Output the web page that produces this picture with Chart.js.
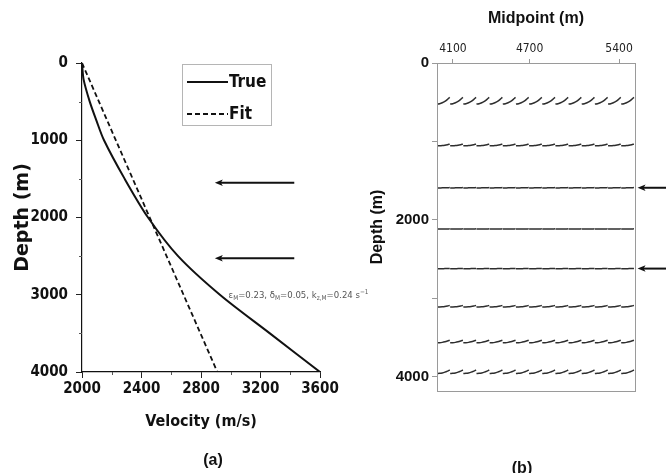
<!DOCTYPE html>
<html><head><meta charset="utf-8">
<script src="https://cdn.jsdelivr.net/npm/chart.js@4"></script>
<style>
html,body{margin:0;padding:0;background:#fff;}
#wrap{position:relative;width:666px;height:473px;overflow:hidden;background:#fff;}
#ca{position:absolute;left:0;top:0;}
#cb{position:absolute;left:340px;top:0;}
</style></head><body>
<div id="wrap"><canvas id="ca" width="400" height="473"></canvas><canvas id="cb" width="326" height="473"></canvas></div>
<script>
// ---------- Panel (a): velocity vs depth ----------
const trueDepth = [0, 215, 500, 740, 1000, 1500, 2000, 2500, 3000, 3500, 4000];
const trueVelocity = [2000, 2011, 2052, 2096, 2148, 2287, 2444, 2646, 2927, 3263, 3600];
const fitDepth = [0, 4000];
const fitVelocity = [2000, 2910];
const velocityTicks = [2000, 2400, 2800, 3200, 3600];
const velocityMinorTicks = [2200, 2600, 3000, 3400];
const depthTicksA = [0, 1000, 2000, 3000, 4000];
const depthMinorTicksA = [500, 1500, 2500, 3500];
const arrowDepthsA = [1549, 2529];
const arrowVelTailA = 3427;
const arrowVelHeadA = 2893;
const annotVel = 2985, annotDepth = 3040;

// ---------- Panel (b): migrated gather ----------
const midpointTicks = [4100, 4700, 5400];
const depthTicksB = [0, 2000, 4000];
const depthMinorTicksB = [1000, 3000];
const eventDepths = [480, 1045, 1590, 2115, 2620, 3100, 3550, 3935];
const eventRise = [85, 22, 4, 3, 4, 20, 32, 45];
const traceStarts = [3975, 4078, 4181, 4284, 4387, 4490, 4593, 4696, 4799, 4902, 5005, 5108, 5211, 5314, 5417];
const traceWidth = 103;
const hookOffsets = [0, 0.2, 0.4, 0.6, 0.8, 0.97];
const hookShape = [0, 0.05, 0.18, 0.4, 0.7, 1.0];
const arrowDepthsB = [1590, 2620];
const arrowMidTailB = 5790;
const arrowMidHeadB = 5545;

const COND = '"DejaVu Sans Condensed", "Liberation Sans Narrow", "Liberation Sans", sans-serif';
const SANS = '"Liberation Sans", Arial, sans-serif';
const DJ = '"DejaVu Sans", sans-serif';

function drawArrow(ctx, x1, y, x2, head) {
  ctx.save();
  ctx.strokeStyle = '#111'; ctx.fillStyle = '#111'; ctx.lineWidth = 2;
  ctx.beginPath(); ctx.moveTo(x1, y); ctx.lineTo(x2 + head * 0.8, y); ctx.stroke();
  ctx.beginPath(); ctx.moveTo(x2, y); ctx.lineTo(x2 + head * 1.6, y - head * 0.65);
  ctx.lineTo(x2 + head * 1.2, y); ctx.lineTo(x2 + head * 1.6, y + head * 0.65); ctx.closePath(); ctx.fill();
  ctx.restore();
}

const decoA = {
  id: 'decoA',
  afterDraw(chart) {
    const ctx = chart.ctx, xs = chart.scales.x, ys = chart.scales.y;
    arrowDepthsA.forEach(d => {
      drawArrow(ctx, xs.getPixelForValue(arrowVelTailA), ys.getPixelForValue(d), xs.getPixelForValue(arrowVelHeadA), 5);
    });
    ctx.save();
    ctx.strokeStyle = '#555'; ctx.lineWidth = 1;
    velocityMinorTicks.forEach(v => {
      const px = Math.round(xs.getPixelForValue(v)) + 0.5;
      ctx.beginPath(); ctx.moveTo(px, ys.bottom); ctx.lineTo(px, ys.bottom + 3); ctx.stroke();
    });
    depthMinorTicksA.forEach(v => {
      const py = Math.round(ys.getPixelForValue(v)) + 0.5;
      ctx.beginPath(); ctx.moveTo(xs.left, py); ctx.lineTo(xs.left - 3, py); ctx.stroke();
    });
    ctx.strokeStyle = '#b5b5b5'; ctx.lineWidth = 1;
    ctx.strokeRect(182.5, 64.5, 89, 61);
    const ds = chart.data.datasets;
    const rows = [82, 114];
    ds.forEach((d, i) => {
      ctx.strokeStyle = '#111'; ctx.lineWidth = 1.8;
      ctx.setLineDash(d.borderDash || []);
      ctx.beginPath(); ctx.moveTo(187, rows[i]); ctx.lineTo(228, rows[i]); ctx.stroke();
      ctx.setLineDash([]);
      ctx.fillStyle = '#111'; ctx.font = 'bold 17px ' + COND;
      ctx.textBaseline = 'middle'; ctx.textAlign = 'left';
      ctx.fillText(d.label, 229, rows[i] + 1);
    });
    let x = xs.getPixelForValue(annotVel), y = ys.getPixelForValue(annotDepth);
    const parts = [['ε',0],['M',1],['=0.23, ',0],['δ',0],['M',1],['=0.05, ',0],['k',0],['z,M',1],['=0.24 s',0],['−1',2]];
    ctx.fillStyle = '#555'; ctx.textBaseline = 'alphabetic';
    parts.forEach(([t, s]) => {
      ctx.font = (s ? '6.5px ' : '9.5px ') + COND;
      const yy = s === 1 ? y + 2 : (s === 2 ? y - 4 : y);
      ctx.fillText(t, x, yy);
      x += ctx.measureText(t).width;
    });
    ctx.fillStyle = '#111'; ctx.font = 'bold 16px ' + SANS; ctx.textAlign = 'center'; ctx.textBaseline = 'middle';
    ctx.fillText('(a)', 213, 461);
    ctx.restore();
  }
};

new Chart(document.getElementById('ca'), {
  type: 'line',
  data: {
    datasets: [
      { label: 'True', data: trueVelocity.map((v, i) => ({x: v, y: trueDepth[i]})),
        borderColor: '#111', borderWidth: 2, pointRadius: 0, tension: 0.3, fill: false },
      { label: 'Fit', data: fitVelocity.map((v, i) => ({x: v, y: fitDepth[i]})),
        borderColor: '#111', borderWidth: 1.8, borderDash: [5, 3], pointRadius: 0, fill: false }
    ]
  },
  options: {
    responsive: false, animation: false, devicePixelRatio: 1,
    layout: { padding: { left: 0, top: 63, right: 80, bottom: 0 } },
    plugins: { legend: { display: false }, tooltip: { enabled: false } },
    scales: {
      x: {
        type: 'linear', min: 2000, max: 3600,
        afterBuildTicks: s => { s.ticks = velocityTicks.map(v => ({value: v})); },
        afterFit: s => { s.height = 101; },
        ticks: { color: '#111', font: { family: COND, size: 15, weight: 'bold' }, padding: 2, maxRotation: 0,
          callback: v => String(v) },
        grid: { drawOnChartArea: false, tickLength: 6, color: '#222' },
        border: { color: '#111', width: 1.2 },
        title: { display: true, text: 'Velocity (m/s)', color: '#111', font: { family: COND, size: 16, weight: 'bold' }, padding: { bottom: 42, top: 0 } }
      },
      y: {
        type: 'linear', reverse: true, min: 0, max: 4000,
        afterBuildTicks: s => { s.ticks = depthTicksA.map(v => ({value: v})); },
        afterFit: s => { s.width = 82; },
        ticks: { color: '#111', font: { family: COND, size: 15, weight: 'bold' }, padding: 8, callback: v => String(v) },
        grid: { drawOnChartArea: false, tickLength: 6, color: '#222' },
        border: { color: '#111', width: 1.2 },
        title: { display: true, text: 'Depth (m)', color: '#111', font: { family: DJ, size: 19, weight: 'bold' }, padding: { top: 12, bottom: 0 } }
      }
    }
  },
  plugins: [decoA]
});

// ---------- Panel (b) ----------
const gatherDatasets = eventDepths.map((d, r) => {
  const pts = [];
  traceStarts.forEach(t0 => {
    hookOffsets.forEach((o, k) => {
      pts.push({ x: t0 + o * traceWidth, y: d - hookShape[k] * eventRise[r] + eventRise[r] * 0.5 });
    });
    pts.push({ x: t0 + traceWidth, y: null });
  });
  return { label: 'Event ' + (r + 1), data: pts, borderColor: '#2e2e2e', borderWidth: 1.5, pointRadius: 0,
           tension: 0.35, spanGaps: false, fill: false };
});

const decoB = {
  id: 'decoB',
  afterDraw(chart) {
    const ctx = chart.ctx, xs = chart.scales.x, ys = chart.scales.y, a = chart.chartArea;
    ctx.save();
    ctx.strokeStyle = '#9a9a9a'; ctx.lineWidth = 1;
    ctx.strokeRect(Math.round(a.left) + 0.5, Math.round(a.top) + 0.5, Math.round(a.right - a.left), Math.round(a.bottom - a.top));
    arrowDepthsB.forEach(d => {
      drawArrow(ctx, xs.getPixelForValue(arrowMidTailB), ys.getPixelForValue(d), xs.getPixelForValue(arrowMidHeadB), 5);
    });
    ctx.fillStyle = '#111'; ctx.font = 'bold 16px ' + SANS; ctx.textAlign = 'center'; ctx.textBaseline = 'middle';
    ctx.fillText('(b)', 182, 469);
    ctx.restore();
  }
};

new Chart(document.getElementById('cb'), {
  type: 'line',
  data: { datasets: gatherDatasets },
  options: {
    responsive: false, animation: false, devicePixelRatio: 1,
    layout: { padding: { left: 0, top: 0, right: 31, bottom: 82 } },
    plugins: { legend: { display: false }, tooltip: { enabled: false } },
    scales: {
      x: {
        type: 'linear', position: 'top', min: 3975, max: 5525,
        afterBuildTicks: s => { s.ticks = midpointTicks.map(v => ({value: v})); },
        afterFit: s => { s.height = 63; },
        ticks: { color: '#222', font: { family: COND, size: 12 }, padding: 3, maxRotation: 0, callback: v => String(v) },
        grid: { drawOnChartArea: false, tickLength: 4, color: '#999' },
        border: { display: false },
        title: { display: true, text: 'Midpoint (m)', color: '#111', font: { family: SANS, size: 16, weight: 'bold' }, padding: { top: 9, bottom: 0 } }
      },
      y: {
        type: 'linear', reverse: true, min: 0, max: 4180,
        afterBuildTicks: s => { s.ticks = depthTicksB.concat(depthMinorTicksB).sort((a, b) => a - b).map(v => ({value: v})); },
        afterFit: s => { s.width = 97; },
        ticks: { color: '#111', font: { family: SANS, size: 15, weight: 'bold' }, padding: 3,
          callback: v => depthTicksB.includes(v) ? String(v) : '' },
        grid: { drawOnChartArea: false, tickLength: 5, color: '#999' },
        border: { display: false },
        title: { display: true, text: 'Depth (m)', color: '#111', font: { family: SANS, size: 16, weight: 'bold' }, padding: { top: 28, bottom: 0 } }
      }
    }
  },
  plugins: [decoB]
});
</script>
</body></html>
